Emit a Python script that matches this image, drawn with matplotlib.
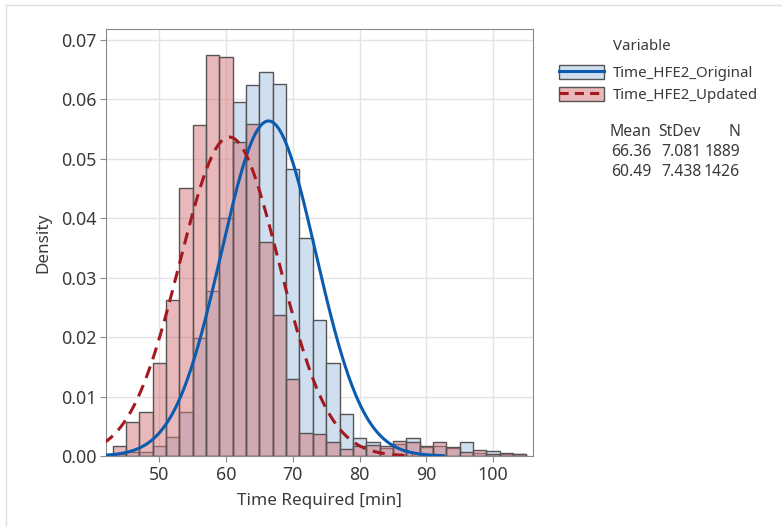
import matplotlib.pyplot as plt
import numpy as np
from matplotlib.lines import Line2D
from matplotlib.patches import Patch

plt.rcParams['font.family'] = ['Noto Sans', 'DejaVu Sans']

# Histogram bins (width 2), densities
bin_centers = np.arange(44, 105, 2)
original_density = [0.0003, 0.0007, 0.0007, 0.0016, 0.0032, 0.0074, 0.0199, 0.0277,
                    0.0400, 0.0595, 0.0623, 0.0646, 0.0625, 0.0482, 0.0367, 0.0229,
                    0.0157, 0.0070, 0.0031, 0.0023, 0.0013, 0.0021, 0.0030, 0.0015,
                    0.0017, 0.0014, 0.0023, 0.0005, 0.0008, 0.0004, 0.0003]
updated_density = [0.0016, 0.0058, 0.0074, 0.0157, 0.0263, 0.0450, 0.0556, 0.0674,
                   0.0671, 0.0528, 0.0558, 0.0360, 0.0237, 0.0129, 0.0039, 0.0037,
                   0.0023, 0.0011, 0.0017, 0.0018, 0.0017, 0.0026, 0.0023, 0.0016,
                   0.0023, 0.0015, 0.0006, 0.0010, 0.0003, 0.0005, 0.0004]

# Summary statistics shown in the legend
labels = ['Time_HFE2_Original', 'Time_HFE2_Updated']
means = [66.36, 60.49]
stdevs = [7.081, 7.438]
counts = [1889, 1426]

blue_fill = '#d0dff0'
red_fill = (211 / 255, 120 / 255, 124 / 255, 0.52)
edge = '#555555'
blue_line = '#0b5cb0'
red_line = '#a3191f'
txt = '#3a3a3a'

fig = plt.figure(figsize=(7.82, 5.27), dpi=100)
ax = fig.add_axes([106 / 782, 71 / 527, 427 / 782, 427 / 527])

ax.bar(bin_centers, original_density, width=2, color=blue_fill, edgecolor=edge, linewidth=1, zorder=2)
ax.bar(bin_centers, updated_density, width=2, color=red_fill, edgecolor=edge, linewidth=1, zorder=3)

# Fitted normal curves
for mu, sd, col, ls in [(means[0], stdevs[0], blue_line, '-'), (means[1], stdevs[1], red_line, '--')]:
    x = np.linspace(mu - 3.7 * sd, mu + 3.7 * sd, 400)
    y = np.exp(-0.5 * ((x - mu) / sd) ** 2) / (sd * np.sqrt(2 * np.pi))
    ax.plot(x, y, color=col, linestyle=ls, linewidth=2.2, zorder=4,
            dashes=(4, 2.5) if ls == '--' else (None, None))

ax.set_xlim(42, 106)
ax.set_ylim(0, 0.0718)
ax.set_xticks([50, 60, 70, 80, 90, 100])
ax.set_yticks(np.arange(0, 0.071, 0.01))
ax.yaxis.set_major_formatter(plt.FormatStrFormatter('%.2f'))
ax.grid(True, color='#e3e3e3', linewidth=1, zorder=0)
ax.set_axisbelow(True)
for s in ax.spines.values():
    s.set_color('#8a8a8a')
ax.tick_params(colors='#8a8a8a', labelcolor=txt, labelsize=12.8, length=4, pad=3)
ax.set_xlabel('Time Required [min]', fontsize=12.3, color=txt, labelpad=7)
ax.set_ylabel('Density', fontsize=12.3, color=txt, labelpad=7)

# Legend
handles = [(Patch(facecolor=blue_fill, edgecolor=edge), Line2D([], [], color=blue_line, linewidth=2.2)),
           (Patch(facecolor=(0.91, 0.72, 0.73), edgecolor=edge),
            Line2D([], [], color=red_line, linewidth=2.2, linestyle='--', dashes=(3, 2)))]
fig.text(613 / 782, 1 - 47 / 527, 'Variable', fontsize=10.8, color=txt, va='center')
fig.legend(handles, labels, loc='upper left', bbox_to_anchor=(545 / 782, 1 - 52 / 527),
           frameon=False, fontsize=10.8, handlelength=3.0, handleheight=1.0,
           handletextpad=0.6, labelspacing=0.4, labelcolor=txt)

# Stats table
cols = [651, 701, 740]
fig.text(cols[0] / 782, 1 - 132 / 527, 'Mean', ha='right', va='center', fontsize=11.3, color=txt)
fig.text(cols[1] / 782, 1 - 132 / 527, 'StDev', ha='right', va='center', fontsize=11.3, color=txt)
fig.text(cols[2] / 782, 1 - 132 / 527, 'N', ha='right', va='center', fontsize=11.3, color=txt)
for i in range(2):
    yy = 1 - (152 + 20 * i) / 527
    fig.text(cols[0] / 782, yy, f'{means[i]:.2f}', ha='right', va='center', fontsize=11.3, color=txt)
    fig.text(cols[1] / 782, yy, f'{stdevs[i]:.3f}', ha='right', va='center', fontsize=11.3, color=txt)
    fig.text(cols[2] / 782, yy, f'{counts[i]}', ha='right', va='center', fontsize=11.3, color=txt)

# Screenshot border
fig.add_artist(Line2D([6 / 782, 1], [1 - 5 / 527, 1 - 5 / 527], color='#e0e0e0', linewidth=1))
fig.add_artist(Line2D([6 / 782, 6 / 782], [0, 1 - 5 / 527], color='#e0e0e0', linewidth=1))

fig.savefig('out.png', dpi=100)
